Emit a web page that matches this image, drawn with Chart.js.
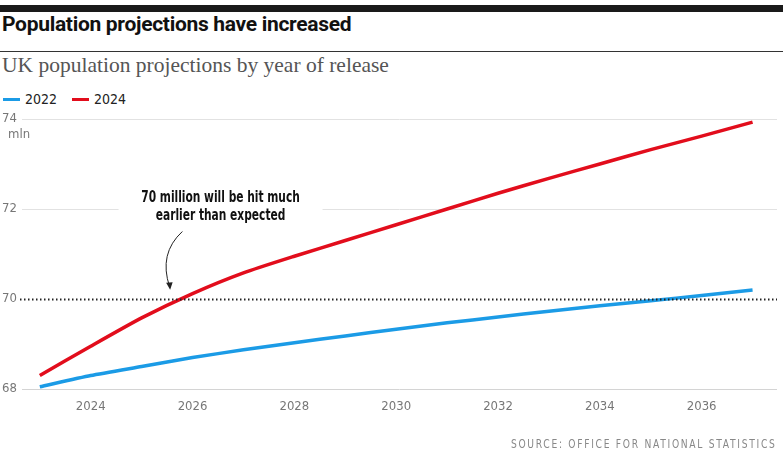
<!DOCTYPE html>
<html>
<head>
<meta charset="utf-8">
<script src="https://cdn.jsdelivr.net/npm/chart.js@4"></script>
<style>
  body { margin: 0; background: #fff; width: 783px; height: 457px; position: relative; overflow: hidden; }
  .bar { position: absolute; left: 0; top: 5px; width: 783px; height: 7px; background: #1a1a1a; }
  .title { position: absolute; left: 2px; top: 12px; font: 700 21px Roboto, sans-serif; letter-spacing: -0.3px; color: #111; }
  .rule { position: absolute; left: 0; top: 51px; width: 783px; height: 1px; background: #333; }
  .sub { position: absolute; left: 2px; top: 53px; font: 21.5px "Liberation Serif", serif; color: #555; }
  .legend { position: absolute; left: 3px; top: 90px; font: 14px "DejaVu Sans Condensed", sans-serif; color: #222; }
  .legend span { display: inline-block; vertical-align: middle; }
  .sw { width: 17px; height: 3px; margin-right: 5px; }
  .source { position: absolute; right: 6px; top: 437px; font: 12px "DejaVu Sans Condensed", sans-serif; letter-spacing: 2px; color: #888; transform: scaleX(0.85); transform-origin: right center; }
  canvas { position: absolute; left: 0; top: 0; }
</style>
</head>
<body>
<div class="bar"></div>
<div class="title">Population projections have increased</div>
<div class="rule"></div>
<div class="sub">UK population projections by year of release</div>
<div class="legend">
  <span class="sw" style="background:#1b9be6"></span><span style="margin-right:11px">2022</span>
  <span class="sw" style="background:#e20d1c"></span><span>2024</span>
</div>
<canvas id="chart" width="783" height="457"></canvas>
<div class="source">SOURCE: OFFICE FOR NATIONAL STATISTICS</div>
<script>
const years = [2023, 2024, 2025, 2026, 2027, 2028, 2029, 2030, 2031, 2032, 2033, 2034, 2035, 2036, 2037];
const proj2022 = [68.05, 68.3, 68.5, 68.7, 68.87, 69.03, 69.18, 69.33, 69.47, 69.6, 69.73, 69.85, 69.96, 70.08, 70.2];
const proj2024 = [68.3, 68.95, 69.58, 70.12, 70.58, 70.95, 71.3, 71.65, 72.0, 72.35, 72.68, 73.0, 73.32, 73.62, 73.93];
const xTicks = [2024, 2026, 2028, 2030, 2032, 2034, 2036];
const yTicks = [68, 70, 72, 74];
const noteLines = ["70 million will be hit much", "earlier than expected"];

const narrow = '"DejaVu Sans Condensed", sans-serif';

const extras = {
  id: "extras",
  afterDraw(chart) {
    const { ctx, chartArea, scales: { x, y } } = chart;
    ctx.save();
    // 70 million line
    const y70 = Math.round(y.getPixelForValue(70)) + 0.5;
    ctx.strokeStyle = "#222";
    ctx.lineWidth = 2;
    ctx.setLineDash([1.5, 2.5]);
    ctx.beginPath();
    ctx.moveTo(chartArea.left - 2, y70);
    ctx.lineTo(chartArea.right, y70);
    ctx.stroke();
    ctx.setLineDash([]);

    // unit label
    ctx.fillStyle = "#777";
    ctx.font = "13px " + narrow;
    ctx.textAlign = "left";
    ctx.textBaseline = "middle";
    ctx.fillText("mln", 8, y.getPixelForValue(74) + 16);

    // annotation
    const tx = x.getPixelForValue(2026.55);
    const ty = y.getPixelForValue(72.05);
    ctx.fillStyle = "#fff";
    ctx.fillRect(tx - 102, ty - 20, 204, 40);
    ctx.fillStyle = "#111";
    ctx.font = "bold 15px " + narrow;
    ctx.textAlign = "center";
    ctx.save();
    ctx.translate(tx, ty);
    ctx.scale(0.79, 1);
    ctx.fillText(noteLines[0], 0, -9);
    ctx.fillText(noteLines[1], 0, 9);
    ctx.restore();

    // arrow
    const ax = x.getPixelForValue(2025.55), ay = y.getPixelForValue(70.27);
    const sx = x.getPixelForValue(2025.8), sy = y.getPixelForValue(71.5);
    ctx.strokeStyle = "#222";
    ctx.lineWidth = 1;
    ctx.beginPath();
    ctx.moveTo(sx, sy);
    ctx.quadraticCurveTo(sx - 24, sy + 22, ax, ay);
    ctx.stroke();
    ctx.fillStyle = "#222";
    ctx.beginPath();
    ctx.moveTo(ax + 0.5, ay + 3);
    ctx.lineTo(ax - 3.5, ay - 4);
    ctx.lineTo(ax + 3, ay - 4.5);
    ctx.closePath();
    ctx.fill();
    ctx.restore();
  }
};

new Chart(document.getElementById("chart"), {
  type: "line",
  data: {
    labels: years,
    datasets: [
      { label: "2022", data: years.map((yr, i) => ({ x: yr, y: proj2022[i] })), borderColor: "#1b9be6", borderWidth: 3.5, pointRadius: 0, tension: 0.2 },
      { label: "2024", data: years.map((yr, i) => ({ x: yr, y: proj2024[i] })), borderColor: "#e20d1c", borderWidth: 3.5, pointRadius: 0, tension: 0.2 }
    ]
  },
  options: {
    responsive: false,
    animation: false,
    layout: { padding: { top: 119, bottom: 38, right: 6, left: 0 } },
    plugins: { legend: { display: false }, tooltip: { enabled: false } },
    scales: {
      x: {
        type: "linear",
        min: 2022.65,
        max: 2037.48,
        afterBuildTicks: (s) => { s.ticks = xTicks.map(v => ({ value: v })); },
        afterFit: (s) => { s.height = 30; },
        grid: { display: false },
        border: { display: false },
        ticks: { padding: 2, color: "#777", font: { size: 13, family: narrow }, callback: v => String(v) }
      },
      y: {
        min: 68,
        max: 74,
        afterBuildTicks: (s) => { s.ticks = yTicks.map(v => ({ value: v })); },
        afterFit: (s) => { s.width = 22; },
        border: { display: false },
        grid: {
          drawTicks: false,
          color: (c) => c.tick.value === 70 ? "rgba(0,0,0,0)" : (c.tick.value === 68 ? "#d4d4d4" : "#e2e2e2")
        },
        ticks: { padding: 5, color: "#777", font: { size: 13, family: narrow } }
      }
    }
  },
  plugins: [extras]
});
</script>
</body>
</html>
